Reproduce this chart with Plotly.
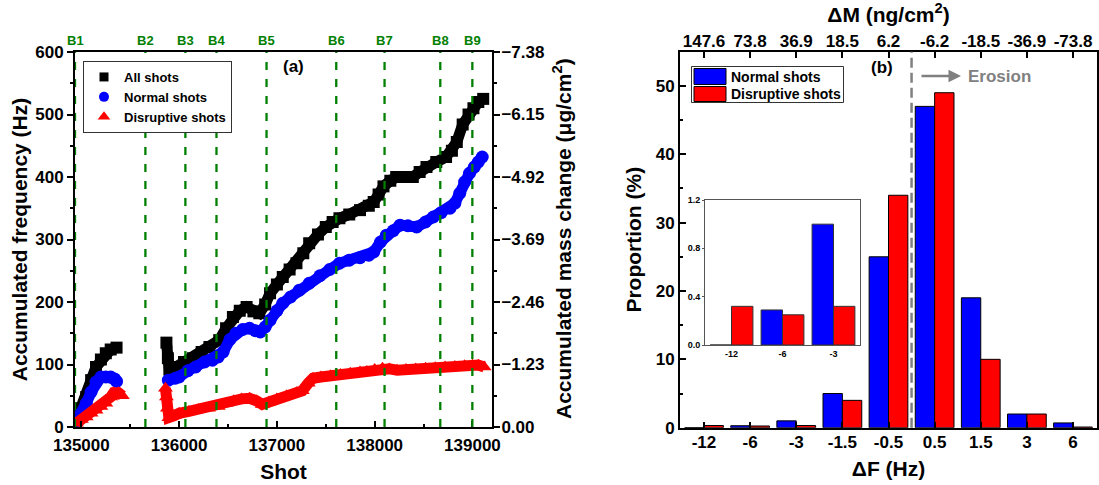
import plotly.graph_objects as go

# ---------------- Panel (a) data ----------------
all_seg1_shot = [134950, 135000, 135050, 135100, 135150, 135200, 135250, 135300, 135360]
all_seg1_hz = [12, 30, 48, 75, 96, 108, 118, 124, 127]
all_seg2_shot = [135870, 135885, 135900, 135970, 136050, 136140, 136230, 136310, 136410, 136480,
                 136550, 136620, 136690, 136760, 136820, 136880, 136930, 137000, 137060, 137130,
                 137200, 137270, 137330, 137420, 137500, 137570, 137640, 137740, 137850, 137940,
                 137990, 138040, 138090, 138160, 138220, 138300, 138390, 138460, 138530, 138630,
                 138730, 138790, 138840, 138900, 138960, 139010, 139060, 139110]
all_seg2_hz = [135, 110, 92, 96, 104, 110, 120, 128, 139, 158,
               176, 186, 192, 185, 182, 196, 214, 228, 240, 252,
               262, 278, 294, 308, 320, 328, 334, 340, 347, 354,
               360, 372, 385, 394, 400, 400, 400, 408, 416, 424,
               432, 442, 456, 484, 500, 510, 520, 525]

nor_seg1_shot = [134950, 135000, 135050, 135100, 135150, 135200, 135250, 135300, 135340, 135360]
nor_seg1_hz = [10, 22, 38, 56, 72, 80, 80, 80, 77, 73]
nor_seg2_shot = [135890, 135960, 136000, 136090, 136170, 136260, 136340, 136400, 136450, 136520,
                 136580, 136650, 136720, 136780, 136830, 136880, 136930, 137000, 137060, 137140,
                 137230, 137330, 137440, 137540, 137640, 137740, 137850, 137940, 137990, 138060,
                 138120, 138190, 138260, 138340, 138430, 138520, 138600, 138680, 138770, 138820,
                 138870, 138920, 138970, 139020, 139060, 139100]
nor_seg2_hz = [75, 78, 80, 90, 96, 104, 107, 112, 120, 140,
               150, 156, 158, 154, 152, 160, 171, 186, 198, 208,
               219, 230, 242, 252, 262, 267, 271, 275, 280, 296,
               307, 314, 323, 322, 320, 328, 336, 343, 350, 358,
               374, 392, 406, 416, 424, 432]

dis_seg1_shot = [134950, 135000, 135050, 135100, 135150, 135200, 135250, 135300, 135330, 135380, 135420]
dis_seg1_hz = [6, 12, 16, 22, 27, 33, 38, 48, 55, 55, 50]
dis_seg2_shot = [135860, 135870, 135880, 135895, 135950, 136000, 136100, 136200, 136300, 136400,
                 136480, 136560, 136640, 136720, 136790, 136850, 136920, 137000, 137100, 137200,
                 137260, 137320, 137370, 137450, 137550, 137650, 137750, 137850, 137920, 138000,
                 138080, 138150, 138230, 138320, 138420, 138520, 138620, 138720, 138820, 138920,
                 139000, 139060, 139120]
dis_seg2_hz = [62, 48, 30, 15, 18, 22, 25, 28, 30, 33,
               38, 42, 45, 46, 42, 36, 40, 45, 50, 55,
               58, 70, 78, 80, 82, 84, 86, 88, 89, 92,
               94, 93, 91, 92, 93, 94, 95, 96, 97, 98,
               99, 99, 96]

b_labels = ["B1", "B2", "B3", "B4", "B5", "B6", "B7", "B8", "B9"]
b_shots = [134935, 135655, 136064, 136382, 136894, 137607, 138101, 138671, 138999]

freq_ticks = [0, 100, 200, 300, 400, 500, 600]
mass_ticks = [0.00, -1.23, -2.46, -3.69, -4.92, -6.15, -7.38]

# ---------------- Panel (b) data ----------------
df_labels = ["-12", "-6", "-3", "-1.5", "-0.5", "0.5", "1.5", "3", "6"]
dm_labels = ["147.6", "73.8", "36.9", "18.5", "6.2", "-6.2", "-18.5", "-36.9", "-73.8"]
normal_prop = [0, 0.29, 1.0, 5.0, 25.0, 47.0, 19.0, 2.0, 0.7]
disrupt_prop = [0.32, 0.25, 0.32, 4.0, 34.0, 49.0, 10.0, 2.0, 0.1]
inset_n = 3

# ---------------- styling helpers ----------------
W, H = 1099, 485
FONT = "Arial, 'Liberation Sans', sans-serif"


def X(px):
    return px / W


def Y(py):
    return 1 - py / H


def f(size, color="black", bold=True):
    d = dict(family=FONT, size=size, color=color)
    if bold:
        d["weight"] = "bold"
    return d


def join(a, b):
    return a + [None] + b


fig = go.Figure()

series = [
    ("All shots", all_seg1_shot, all_seg1_hz, all_seg2_shot, all_seg2_hz, "#000000", "square", 12, 9),
    ("Normal shots", nor_seg1_shot, nor_seg1_hz, nor_seg2_shot, nor_seg2_hz, "#0000FF", "circle", 13, 10),
    ("Disruptive shots", dis_seg1_shot, dis_seg1_hz, dis_seg2_shot, dis_seg2_hz, "#FF0000", "triangle-up", 13, 11),
]
for name, s1x, s1y, s2x, s2y, col, sym, msize, lsize in series:
    fig.add_trace(go.Scatter(
        x=join(s1x, s2x), y=join(s1y, s2y), mode="lines+markers",
        line=dict(color=col, width=11), marker=dict(color=col, symbol=sym, size=msize),
        connectgaps=False, showlegend=False, xaxis="x", yaxis="y", hoverinfo="skip"))
for name, s1x, s1y, s2x, s2y, col, sym, msize, lsize in series:
    fig.add_trace(go.Scatter(
        x=[None], y=[None], mode="markers", name=name,
        marker=dict(color=col, symbol=sym, size=lsize), xaxis="x", yaxis="y"))

# dummy for right mass axis
fig.add_trace(go.Scatter(x=[None], y=[None], xaxis="x", yaxis="y2", showlegend=False))

# Panel (b) bars
fig.add_trace(go.Bar(x=df_labels, y=normal_prop, name="Normal shots", marker=dict(color="#0000FF", line=dict(color="#000", width=1)),
                     xaxis="x2", yaxis="y3", showlegend=False))
fig.add_trace(go.Bar(x=df_labels, y=disrupt_prop, name="Disruptive shots", marker=dict(color="#FF0000", line=dict(color="#000", width=1)),
                     xaxis="x2", yaxis="y3", showlegend=False))
fig.add_trace(go.Scatter(x=[None], y=[None], xaxis="x3", yaxis="y3", showlegend=False))
# inset
fig.add_trace(go.Bar(x=df_labels[:inset_n], y=normal_prop[:inset_n], marker=dict(color="#0000FF", line=dict(color="#333", width=1)),
                     xaxis="x4", yaxis="y4", showlegend=False))
fig.add_trace(go.Bar(x=df_labels[:inset_n], y=disrupt_prop[:inset_n], marker=dict(color="#FF0000", line=dict(color="#333", width=1)),
                     xaxis="x4", yaxis="y4", showlegend=False))

axis_common = dict(showgrid=False, zeroline=False, showline=True, linecolor="black", linewidth=2,
                   tickcolor="black", tickwidth=2)

fig.update_layout(
    width=W, height=H, margin=dict(l=0, r=0, t=0, b=0), template="none",
    paper_bgcolor="white", plot_bgcolor="rgba(0,0,0,0)",
    barmode="group", bargap=0.16, bargroupgap=0,
    font=f(14),
    showlegend=True,
    legend=dict(x=X(83), y=Y(61), xanchor="left", yanchor="top", bgcolor="white",
                bordercolor="#333", borderwidth=1, font=f(13), tracegroupgap=0),
    xaxis=dict(**axis_common, domain=[X(75), X(492)], range=[134935, 139200], anchor="y",
               tick0=135000, dtick=1000, tickformat="d", ticks="inside", ticklen=6, mirror=True,
               ticklabelstandoff=2,
               minor=dict(dtick=500, tick0=135000, ticks="inside", ticklen=3, tickwidth=2, tickcolor="black"),
               tickfont=f(17), title=dict(text="Shot", font=f(21), standoff=10)),
    yaxis=dict(**axis_common, domain=[Y(427), Y(52)], range=[0, 600], anchor="x",
               tickvals=freq_ticks, ticks="outside", ticklen=6,
               minor=dict(dtick=50, ticks="outside", ticklen=3, tickwidth=2, tickcolor="black"),
               tickfont=f(17), title=dict(text="Accumulated frequency (Hz)", font=f(21), standoff=2)),
    yaxis2=dict(**axis_common, overlaying="y", side="right", anchor="x", range=[0, -7.38],
                tickvals=mass_ticks, tickformat=".2f", ticks="outside", ticklen=6, ticklabelstandoff=-2,
                minor=dict(tickvals=[-0.615, -1.845, -3.075, -4.305, -5.535, -6.765], ticks="outside", ticklen=3, tickwidth=2, tickcolor="black"),
                tickfont=f(17)),
    xaxis2=dict(**axis_common, domain=[X(680), X(1097)], range=[-0.52, 8.52], anchor="y3",
                type="category", categoryorder="array", categoryarray=df_labels,
                ticks="inside", ticklen=6, tickfont=f(17), ticklabelstandoff=-2,
                title=dict(text="ΔF (Hz)", font=f(21), standoff=10)),
    yaxis3=dict(**axis_common, domain=[Y(427.7), Y(51.7)], range=[0, 55], anchor="x2",
                dtick=10, ticks="inside", ticklen=6, mirror=True,
                minor=dict(dtick=5, ticks="inside", ticklen=3, tickwidth=2, tickcolor="black"),
                tickfont=f(17), title=dict(text="Proportion (%)", font=f(21), standoff=8)),
    xaxis3=dict(**axis_common, overlaying="x2", side="top", anchor="y3", range=[-0.52, 8.52],
                tickvals=list(range(len(dm_labels))), ticktext=dm_labels,
                ticks="inside", ticklen=6, tickfont=f(17), ticklabelstandoff=-4,
                title=dict(text="ΔM (ng/cm<sup>2</sup>)", font=f(21), standoff=4)),
    xaxis4=dict(showgrid=False, zeroline=False, showline=True, linecolor="#555", linewidth=1, mirror=True,
                domain=[X(705), X(860)], range=[-0.52, 2.52], anchor="y4", type="category",
                categoryorder="array", categoryarray=df_labels[:inset_n],
                ticks="", tickfont=f(9)),
    yaxis4=dict(showgrid=False, zeroline=False, showline=True, linecolor="#555", linewidth=1, mirror=True,
                domain=[Y(345), Y(200)], range=[0, 1.2], anchor="x4",
                tickvals=[0, 0.4, 0.8, 1.2], tickformat=".1f", ticks="outside", ticklen=2,
                tickcolor="#555", tickwidth=1, tickfont=f(9)),
)

# right-hand title of panel (a)
fig.add_annotation(x=X(562), y=Y(239), xref="paper", yref="paper", xanchor="center", yanchor="middle",
                   text="Accumulated mass change (μg/cm<sup>2</sup>)", textangle=-90, showarrow=False, font=f(21))

# B dashed lines and labels
for lab, sh in zip(b_labels, b_shots):
    fig.add_shape(type="line", xref="x", yref="y domain", x0=sh, x1=sh, y0=0, y1=1,
                  line=dict(color="#008000", width=2.3, dash="8px,9px"), layer="above")
    fig.add_annotation(x=sh, xref="x", y=Y(40), yref="paper", yanchor="middle", text=lab, showarrow=False,
                       font=f(13, "#008000"))

# gray dashed separator in panel (b)
fig.add_shape(type="line", xref="x2", yref="y3 domain", x0=4.5, x1=4.5, y0=0, y1=1,
              line=dict(color="#808080", width=2.5, dash="10px,5px"), layer="above")

# panel labels
fig.add_annotation(x=X(281), y=Y(67), xref="paper", yref="paper", yanchor="middle", text="(a)", showarrow=False, font=f(17))
fig.add_annotation(x=X(895), y=Y(68), xref="paper", yref="paper", yanchor="middle", text="(b)", showarrow=False, font=f(17))
# erosion arrow and text
fig.add_annotation(x=X(961), y=Y(76), xref="paper", yref="paper", ax=-41, ay=0, text="",
                   showarrow=True, arrowhead=2, arrowsize=1, arrowwidth=2.5, arrowcolor="#808080")
fig.add_annotation(x=X(966), y=Y(76), xref="paper", yref="paper", xanchor="left", yanchor="middle", text="Erosion",
                   showarrow=False, font=f(17, "#808080"))

# manual legend for panel (b)
fig.add_shape(type="rect", xref="paper", yref="paper", x0=X(691.5), x1=X(843.5), y0=Y(102.5), y1=Y(66.5),
              line=dict(color="#333", width=1), fillcolor="white")
leg_items = [("Normal shots", "#0000FF", 68.5, 84.5), ("Disruptive shots", "#FF0000", 86.5, 101.5)]
for text, col, top, bot in leg_items:
    fig.add_shape(type="rect", xref="paper", yref="paper", x0=X(694), x1=X(726), y0=Y(bot), y1=Y(top),
                  line=dict(color="#000", width=1), fillcolor=col)
    fig.add_annotation(x=X(729), y=Y((top + bot) / 2), xref="paper", yref="paper", xanchor="left", yanchor="middle",
                       text=text, showarrow=False, font=f(14))

fig.write_html("out.html")
